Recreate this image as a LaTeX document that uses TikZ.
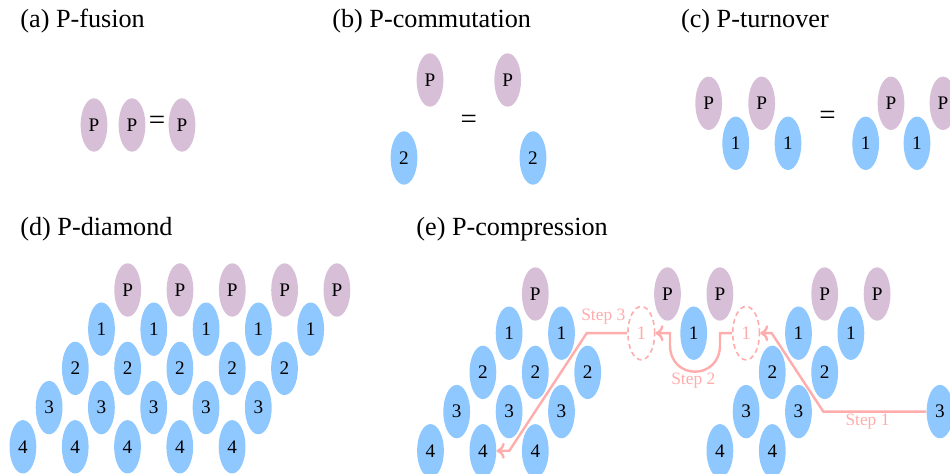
\documentclass[tikz,border=0pt]{standalone}
\usepackage{fontspec}
\setmainfont{Liberation Serif}
\usepackage{tikz}
\usetikzlibrary{shapes.geometric,arrows.meta}

\definecolor{pcol}{RGB}{216,191,216}
\definecolor{qcol}{RGB}{143,200,255}
\definecolor{stepcol}{RGB}{255,172,172}

\tikzset{
	ptile/.style={ellipse,fill=pcol,minimum width=13.4pt,minimum height=26.7pt,inner sep=0pt,font=\fontsize{9.6}{11}\selectfont},
	qtile/.style={ptile,fill=qcol},
	ghost/.style={ptile,fill=none,draw=stepcol,line width=0.8pt,dash pattern=on 2.4pt off 1.8pt,text=stepcol},
	eqsign/.style={font=\fontsize{14.5}{16}\selectfont,inner sep=0pt},
	caption/.style={anchor=base west,inner sep=0pt,font=\fontsize{13.1}{15}\selectfont},
	move/.style={draw=stepcol,line width=1.2pt,-{To[length=4pt,width=8pt]}},
	steptext/.style={text=stepcol,inner sep=0pt,font=\fontsize{8.7}{10}\selectfont}
}

\begin{document}
\begin{tikzpicture}[x=0.5pt,y=-0.5pt]
	\useasboundingbox (0,0) rectangle (950,474);
	
	% (a) fusion
	\node[caption] (ta) at (20,27.3) {(a) P-fusion};
	\node[ptile] (a1) at (94,125) {P};
	\node[ptile] (a2) at (132,125) {P};
	\node[eqsign] (aeq) at (157,122.5) {=};
	\node[ptile] (a3) at (182,125) {P};
	
	% (b) commutation
	\node[caption] (tb) at (332,27.3) {(b) P-commutation};
	\node[ptile] (b1) at (430,80) {P};
	\node[qtile] (b2) at (404,158) {2};
	\node[eqsign] (beq) at (468.7,121.7) {=};
	\node[ptile] (b3) at (507.7,80) {P};
	\node[qtile] (b4) at (533,158) {2};
	
	% (c) turnover
	\node[caption] (tc) at (680.7,27.3) {(c) P-turnover};
	\node[ptile] (c1) at (708.7,103.3) {P};
	\node[qtile] (c2) at (735.7,143.3) {1};
	\node[ptile] (c3) at (761.7,103.3) {P};
	\node[qtile] (c4) at (788,143.3) {1};
	\node[eqsign] (ceq) at (827.5,118) {=};
	\node[qtile] (c5) at (865.7,143.3) {1};
	\node[ptile] (c6) at (891,103.3) {P};
	\node[qtile] (c7) at (917,143.3) {1};
	\node[ptile] (c8) at (943,103.3) {P};
	
	% (d) diamond
	\node[caption] (td) at (20,236) {(d) P-diamond};
	\node[ptile] (d01) at (127.7,290) {P}; \node[ptile] (d02) at (180,290) {P}; \node[ptile] (d03) at (232.3,290) {P}; \node[ptile] (d04) at (284.6,290) {P}; \node[ptile] (d05) at (336.9,290) {P};
	\node[qtile] (d11) at (101.5,329.2) {1}; \node[qtile] (d12) at (153.8,329.2) {1}; \node[qtile] (d13) at (206.1,329.2) {1}; \node[qtile] (d14) at (258.4,329.2) {1}; \node[qtile] (d15) at (310.7,329.2) {1};
	\node[qtile] (d21) at (75.3,368.4) {2}; \node[qtile] (d22) at (127.6,368.4) {2}; \node[qtile] (d23) at (179.9,368.4) {2}; \node[qtile] (d24) at (232.2,368.4) {2}; \node[qtile] (d25) at (284.5,368.4) {2};
	\node[qtile] (d31) at (49.1,407.6) {3}; \node[qtile] (d32) at (101.4,407.6) {3}; \node[qtile] (d33) at (153.7,407.6) {3}; \node[qtile] (d34) at (206,407.6) {3}; \node[qtile] (d35) at (258.3,407.6) {3};
	\node[qtile] (d41) at (22.9,446.8) {4}; \node[qtile] (d42) at (75.2,446.8) {4}; \node[qtile] (d43) at (127.5,446.8) {4}; \node[qtile] (d44) at (179.8,446.8) {4}; \node[qtile] (d45) at (232.1,446.8) {4};
	
	% (e) compression, left part
	\node[caption] (te) at (416,236) {(e) P-compression};
	\node[ptile] (e01) at (535.3,294) {P};
	\node[qtile] (e11) at (509.1,333.2) {1}; \node[qtile] (e12) at (561.5,333.2) {1};
	\node[qtile] (e21) at (482.9,372.4) {2}; \node[qtile] (e22) at (535.3,372.4) {2}; \node[qtile] (e23) at (587.7,372.4) {2};
	\node[qtile] (e31) at (456.7,411.6) {3}; \node[qtile] (e32) at (509.1,411.6) {3}; \node[qtile] (e33) at (561.5,411.6) {3};
	\node[qtile] (e41) at (430.5,450.8) {4}; \node[qtile] (e42) at (482.9,450.8) {4}; \node[qtile] (e43) at (535.3,450.8) {4};
	
	% (e) middle and right part
	\node[ptile] (f01) at (667.5,294) {P}; \node[ptile] (f02) at (719.9,294) {P};
	\node[ptile] (f03) at (824.7,294) {P}; \node[ptile] (f04) at (877.1,294) {P};
	\node[ghost] (g1) at (641.3,333.2) {1};
	\node[qtile] (f11) at (693.7,333.2) {1};
	\node[ghost] (g2) at (746.1,333.2) {1};
	\node[qtile] (f12) at (798.5,333.2) {1}; \node[qtile] (f13) at (850.9,333.2) {1};
	\node[qtile] (f21) at (772.3,372.4) {2}; \node[qtile] (f22) at (824.7,372.4) {2};
	\node[qtile] (f31) at (746.1,411.6) {3}; \node[qtile] (f32) at (798.5,411.6) {3};
	\node[qtile] (f33) at (940,411.6) {3};
	\node[qtile] (f41) at (719.9,450.8) {4}; \node[qtile] (f42) at (772.3,450.8) {4};
	
	% moves
	\coordinate (s1a) at (823.3,411.6);
	\coordinate (s1b) at (771.7,333.2);
	\draw[move] (f33.west) -- (s1a) -- (s1b) -- (g2.east);
	\node[steptext] (t1) at (867.5,421.5) {Step 1};
	
	\coordinate (s2a) at (720,333.2);
	\coordinate (s2b) at (720,345);
	\coordinate (s2c) at (670,345);
	\coordinate (s2d) at (670,333.2);
	\draw[move] (g2.west) -- (s2a) -- (s2b) .. controls (720,380.6) and (670,380.6) .. (s2c) -- (s2d) -- (g1.east);
	\node[steptext] (t2) at (693.3,381) {Step 2};
	
	\coordinate (s3a) at (586.7,333.2);
	\coordinate (s3b) at (509.3,450.8);
	\draw[move] (g1.west) -- (s3a) -- (s3b) -- (e42.east);
	\node[steptext] (t3) at (603.3,316.7) {Step 3};
\end{tikzpicture}
\end{document}
